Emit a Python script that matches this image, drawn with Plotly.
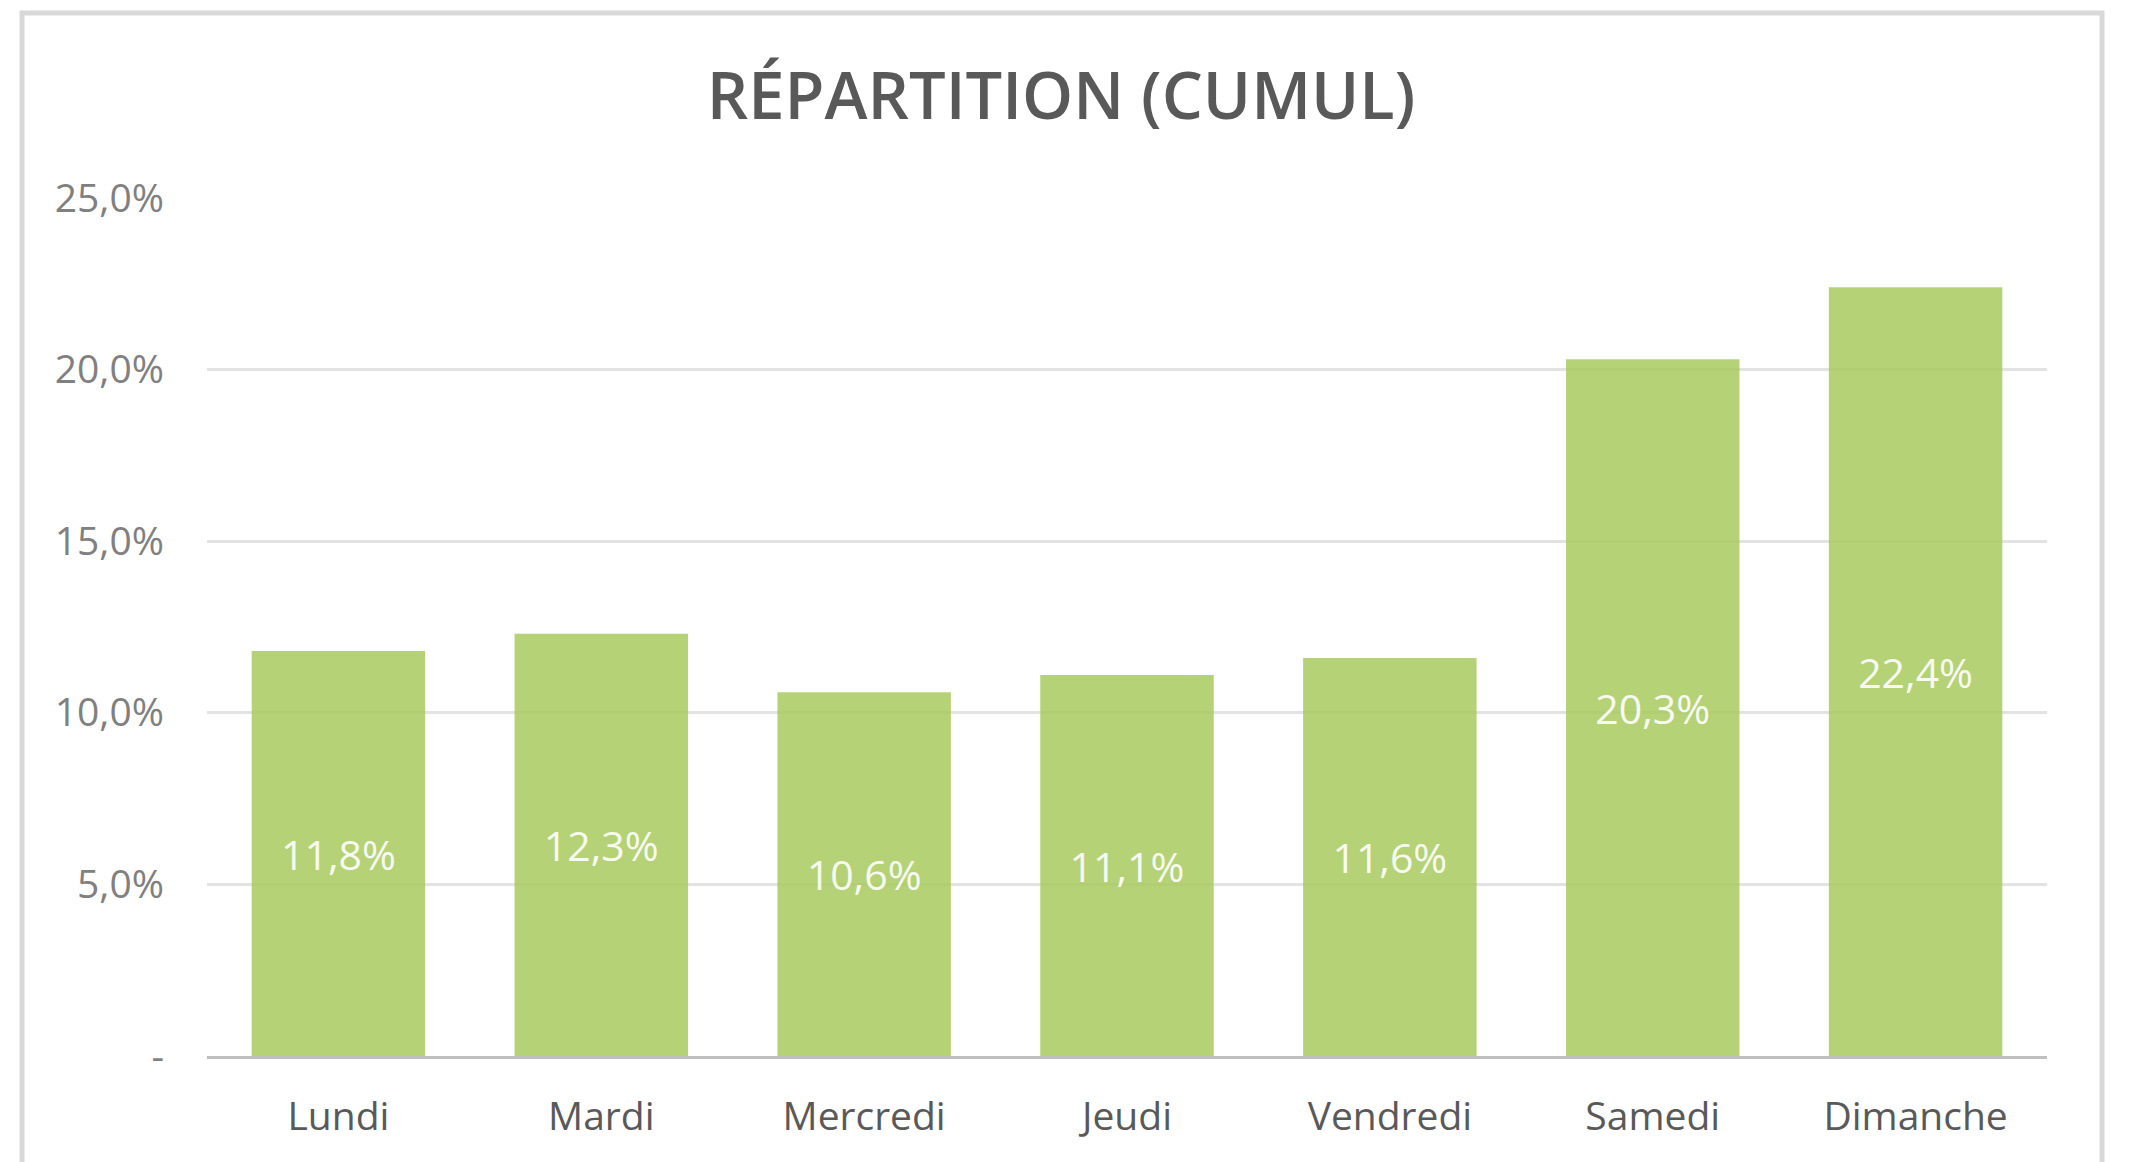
import plotly.graph_objects as go

# Data
days = ["Lundi", "Mardi", "Mercredi", "Jeudi", "Vendredi", "Samedi", "Dimanche"]
shares = [11.8, 12.3, 10.6, 11.1, 11.6, 20.3, 22.4]
ytick_vals = [0, 5, 10, 15, 20, 25]
ytick_text = ["-", "5,0%", "10,0%", "15,0%", "20,0%", "25,0%"]
title_text = "RÉPARTITION (CUMUL)"

labels = [f"{v:.1f}%".replace(".", ",") for v in shares]

OFF = 8  # default body margin of the html page
W, H = 2146 - OFF, 1162 - OFF
ml = 207 - OFF
mt = 198 - OFF
mr = W - (2047 - OFF)
mb = H - (1056.5 - OFF)

fig = go.Figure(
    go.Bar(
        x=days,
        y=shares,
        text=labels,
        textposition="inside",
        insidetextanchor="middle",
        textangle=0,
        textfont=dict(family="Open Sans", size=41, color="rgba(255,255,255,0.92)"),
        marker=dict(color="rgba(169,202,95,0.85)", line=dict(width=0)),
        hoverinfo="skip",
    )
)

pw = W - ml - mr
ph = H - mt - mb

def px_x(v):
    return (v - OFF - ml) / pw

def px_y(v):
    return (H - mb - (v - OFF)) / ph

fig.add_shape(
    type="rect", xref="paper", yref="paper",
    x0=px_x(22), x1=px_x(2102), y0=px_y(1220), y1=px_y(13),
    line=dict(color="#d9d9d9", width=5), fillcolor="rgba(0,0,0,0)", layer="below",
)

fig.update_layout(
    width=W, height=H,
    margin=dict(l=ml, r=mr, t=mt, b=mb),
    paper_bgcolor="white", plot_bgcolor="white",
    bargap=0.34,
    showlegend=False,
    title=dict(
        text=title_text,
        x=(1061 - OFF) / W, xref="container", xanchor="center",
        y=1 - (96 - OFF) / H, yref="container", yanchor="middle",
        font=dict(family="Open Sans", size=65, color="#595959", weight=600),
    ),
    uniformtext=dict(minsize=10, mode="show"),
)

fig.update_xaxes(
    showline=True, linecolor="#bfbfbf", linewidth=3,
    showgrid=False, ticks="",
    tickfont=dict(family="Open Sans", size=39, color="#595959"),
    ticklabelstandoff=24,
)
fig.update_yaxes(
    range=[0, 25],
    tickvals=ytick_vals, ticktext=ytick_text,
    showgrid=True, gridcolor="#e3e3e3", gridwidth=3,
    zeroline=False, showline=False, ticks="",
    tickfont=dict(family="Open Sans", size=39, color="#808080"),
    ticklabelstandoff=42,
)

fig.write_html("out.html")
